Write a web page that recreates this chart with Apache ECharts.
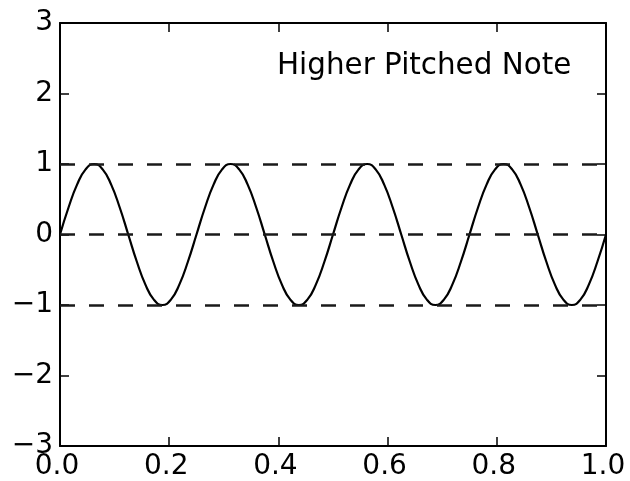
<!DOCTYPE html>
<html>
<head>
<meta charset="utf-8">
<script src="https://cdn.jsdelivr.net/npm/echarts@6/dist/echarts.min.js"></script>
<style>
html,body{margin:0;padding:0;background:#fff;}
#chart{width:630px;height:481px;}
</style>
</head>
<body>
<div id="chart"></div>
<script>
// x positions (time) sampled along the wave
var xValues = [0,0.015625,0.03125,0.046875,0.0625,0.078125,0.09375,0.109375,0.125,0.140625,0.15625,0.171875,0.1875,0.203125,0.21875,0.234375,
0.25,0.265625,0.28125,0.296875,0.3125,0.328125,0.34375,0.359375,0.375,0.390625,0.40625,0.421875,0.4375,0.453125,0.46875,0.484375,
0.5,0.515625,0.53125,0.546875,0.5625,0.578125,0.59375,0.609375,0.625,0.640625,0.65625,0.671875,0.6875,0.703125,0.71875,0.734375,
0.75,0.765625,0.78125,0.796875,0.8125,0.828125,0.84375,0.859375,0.875,0.890625,0.90625,0.921875,0.9375,0.953125,0.96875,0.984375,1];
// wave amplitude read at each x
var yValues = [0,0.383,0.707,0.924,1,0.924,0.707,0.383,0,-0.383,-0.707,-0.924,-1,-0.924,-0.707,-0.383,
0,0.383,0.707,0.924,1,0.924,0.707,0.383,0,-0.383,-0.707,-0.924,-1,-0.924,-0.707,-0.383,
0,0.383,0.707,0.924,1,0.924,0.707,0.383,0,-0.383,-0.707,-0.924,-1,-0.924,-0.707,-0.383,
0,0.383,0.707,0.924,1,0.924,0.707,0.383,0,-0.383,-0.707,-0.924,-1,-0.924,-0.707,-0.383,0];
// dashed reference levels
var hlineLevels = [1, 0, -1];
// axis ranges / tick steps
var xMin = 0, xMax = 1, xStep = 0.2;
var yMin = -3, yMax = 3, yStep = 1;
var noteLabel = 'Higher Pitched Note';

var FONT = 'DejaVu Sans';
var FS = 28;
var chart = echarts.init(document.getElementById('chart'), null, {renderer: 'canvas'});

function fmtY(v){ return v < 0 ? '\u2212' + Math.abs(v) : String(v); }

var axisLineStyle = {show: true, onZero: false, lineStyle: {color: '#000', width: 2}};
var tickStyle = {show: true, inside: true, length: 9, lineStyle: {color: '#000', width: 1.5}};

var option = {
  animation: false,
  backgroundColor: '#fff',
  grid: {left: 60, right: 24, top: 23, bottom: 35, containLabel: false},
  xAxis: [{
    type: 'value', min: xMin, max: xMax, interval: xStep, position: 'bottom',
    axisLine: axisLineStyle, axisTick: tickStyle, splitLine: {show: false},
    axisLabel: {show: true, color: '#000', fontFamily: FONT, fontSize: FS, margin: 7,
      padding: [0, 6, 0, 0],
      formatter: function(v){ return v.toFixed(1); }}
  }, {
    type: 'value', min: xMin, max: xMax, interval: xStep, position: 'top',
    axisLine: axisLineStyle, axisTick: tickStyle, splitLine: {show: false},
    axisLabel: {show: false}
  }],
  yAxis: [{
    type: 'value', min: yMin, max: yMax, interval: yStep, position: 'left',
    axisLine: axisLineStyle, axisTick: tickStyle, splitLine: {show: false},
    axisLabel: {show: true, color: '#000', fontFamily: FONT, fontSize: FS, margin: 7,
      formatter: fmtY}
  }, {
    type: 'value', min: yMin, max: yMax, interval: yStep, position: 'right',
    axisLine: axisLineStyle, axisTick: tickStyle, splitLine: {show: false},
    axisLabel: {show: false}
  }],
  series: [{
    type: 'line',
    xAxisIndex: 0, yAxisIndex: 0,
    data: xValues.map(function(x, i){ return [x, yValues[i]]; }),
    showSymbol: false,
    smooth: true,
    lineStyle: {color: '#000', width: 2.2},
    markLine: {
      silent: true,
      symbol: ['none', 'none'],
      label: {show: false},
      lineStyle: {color: '#1a1a1a', width: 2.6, type: [15, 14]},
      data: hlineLevels.map(function(v){ return {yAxis: v}; })
    }
  }],
  graphic: [{
    type: 'text',
    x: 277, y: 66,
    style: {text: noteLabel, fill: '#000', font: '29.4px "' + FONT + '"',
      textAlign: 'left', textVerticalAlign: 'middle'}
  }]
};
chart.setOption(option);
</script>
</body>
</html>
